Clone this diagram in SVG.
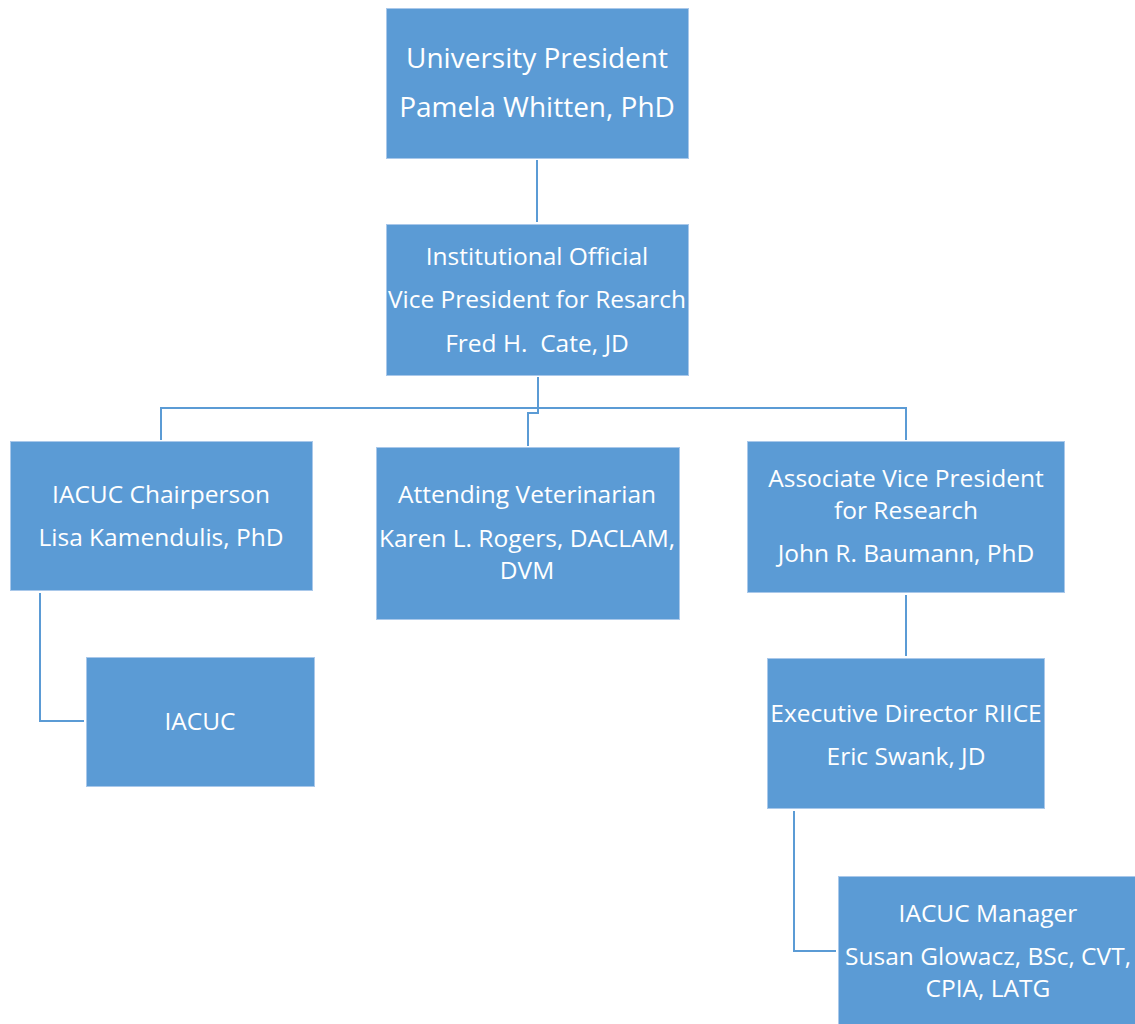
<svg xmlns="http://www.w3.org/2000/svg" width="1135" height="1024" viewBox="0 0 1135 1024">
<style>
.box{fill:#5B9BD5;stroke:#A9C8EA;stroke-width:1}
.t{font-family:"Open Sans","Liberation Sans",sans-serif;fill:#FFFFFF;text-anchor:middle;font-size:24.5px;white-space:pre}
.big{font-size:28px}
.con{fill:none;stroke:#5B9BD5;stroke-width:2}
</style>
<rect width="1135" height="1024" fill="#FFFFFF"/>
<g id="connectors">
<path class="con" d="M537 160 V222"/>
<path class="con" d="M538 377 V413 H528 V446"/>
<path class="con" d="M161 440 V408 H906 V440"/>
<path class="con" d="M40 593 V721 H84"/>
<path class="con" d="M906 595 V656"/>
<path class="con" d="M794 811 V951 H836"/>
</g>
<g id="president">
<rect class="box" x="386.5" y="8.5" width="302" height="150"/>
<text class="t big" x="537" y="68">University President</text>
<text class="t big" x="537" y="117">Pamela Whitten, PhD</text>
</g>
<g id="official">
<rect class="box" x="386.5" y="224.5" width="302" height="151"/>
<text class="t" x="537" y="265">Institutional Official</text>
<text class="t" x="537" y="308">Vice President for Resarch</text>
<text class="t" x="537" y="352" xml:space="preserve">Fred H.  Cate, JD</text>
</g>
<g id="chair">
<rect class="box" x="10.5" y="441.5" width="302" height="149"/>
<text class="t" x="161" y="503">IACUC Chairperson</text>
<text class="t" x="161" y="546">Lisa Kamendulis, PhD</text>
</g>
<g id="vet">
<rect class="box" x="376.5" y="447.5" width="303" height="172"/>
<text class="t" x="527" y="503">Attending Veterinarian</text>
<text class="t" x="527" y="547">Karen L. Rogers, DACLAM,</text>
<text class="t" x="527" y="579">DVM</text>
</g>
<g id="avp">
<rect class="box" x="747.5" y="441.5" width="317" height="151"/>
<text class="t" x="906" y="487">Associate Vice President</text>
<text class="t" x="906" y="519">for Research</text>
<text class="t" x="906" y="562">John R. Baumann, PhD</text>
</g>
<g id="iacuc">
<rect class="box" x="86.5" y="657.5" width="228" height="129"/>
<text class="t" x="200" y="730">IACUC</text>
</g>
<g id="exec">
<rect class="box" x="767.5" y="658.5" width="277" height="150"/>
<text class="t" x="906" y="722">Executive Director RIICE</text>
<text class="t" x="906" y="765">Eric Swank, JD</text>
</g>
<g id="manager">
<rect class="box" x="838.5" y="876.5" width="300" height="160"/>
<text class="t" x="988" y="922">IACUC Manager</text>
<text class="t" x="988" y="965">Susan Glowacz, BSc, CVT,</text>
<text class="t" x="988" y="997">CPIA, LATG</text>
</g>
</svg>
